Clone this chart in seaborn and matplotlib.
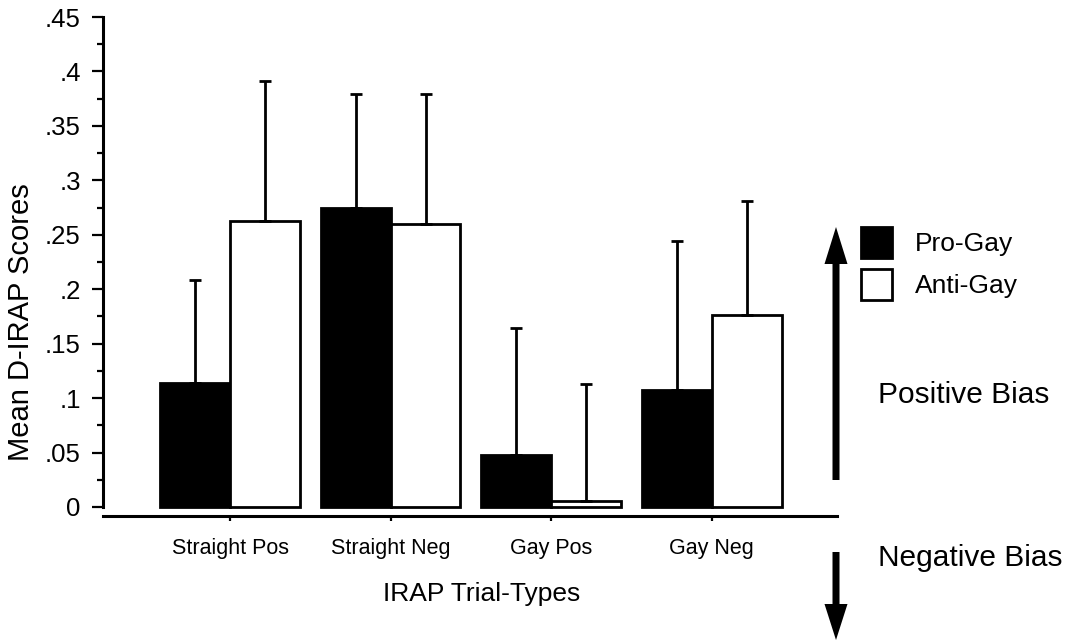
import numpy as np
import pandas as pd
import matplotlib
matplotlib.use("Agg")
import matplotlib.pyplot as plt
import seaborn as sns
from matplotlib.patches import Patch, FancyArrow
from matplotlib.transforms import IdentityTransform
from matplotlib.ticker import FixedLocator, MultipleLocator

# ---------------- data ----------------
categories = ["Straight Pos", "Straight Neg", "Gay Pos", "Gay Neg"]
groups = ["Pro-Gay", "Anti-Gay"]
pro_gay_means = [0.114, 0.275, 0.048, 0.107]
anti_gay_means = [0.263, 0.260, 0.0055, 0.176]
pro_gay_err = [0.0945, 0.104, 0.116, 0.137]
anti_gay_err = [0.128, 0.119, 0.1075, 0.105]
ytick_values = [0, 0.05, 0.1, 0.15, 0.2, 0.25, 0.3, 0.35, 0.4, 0.45]
ytick_labels = ["0", ".05", ".1", ".15", ".2", ".25", ".3", ".35", ".4", ".45"]

df = pd.DataFrame({
    "trial": categories * 2,
    "group": [groups[0]] * len(categories) + [groups[1]] * len(categories),
    "mean": pro_gay_means + anti_gay_means,
})

sns.set_style("ticks")
plt.rcParams["font.family"] = ["Liberation Sans", "DejaVu Sans"]
plt.rcParams["text.color"] = "black"
plt.rcParams["axes.labelcolor"] = "black"
plt.rcParams["xtick.color"] = "black"
plt.rcParams["ytick.color"] = "black"

W, H = 1077, 643
fig = plt.figure(figsize=(W / 100, H / 100), dpi=100)
ax = fig.add_axes([103 / W, (H - 516) / H, 734 / W, 499 / H])

sns.barplot(data=df, x="trial", y="mean", hue="group", order=categories,
            hue_order=groups, palette=["black", "white"], saturation=1,
            edgecolor="black", linewidth=2, width=0.87, errorbar=None,
            legend=False, ax=ax)

for cont, err in zip(ax.containers, [pro_gay_err, anti_gay_err]):
    xs = [b.get_x() + b.get_width() / 2 for b in cont]
    ys = [b.get_height() for b in cont]
    ax.errorbar(xs, ys, yerr=[np.zeros(len(err)), err], fmt="none",
                ecolor="black", elinewidth=2, capsize=4.5, capthick=2, zorder=3)

ax.set_xlim(-0.791, 3.78)
ax.set_ylim(-0.0083, 0.45)
ax.yaxis.set_major_locator(FixedLocator(ytick_values))
ax.set_yticklabels(ytick_labels)
ax.yaxis.set_minor_locator(MultipleLocator(0.025))

for s in ["top", "right"]:
    ax.spines[s].set_visible(False)
ax.spines["left"].set_bounds(0, 0.45)
ax.spines["left"].set_linewidth(2.2)
ax.spines["bottom"].set_linewidth(2.2)
ax.spines["left"].set_color("black")
ax.spines["bottom"].set_color("black")

ax.tick_params(axis="y", which="major", length=8, width=1.6, pad=8,
               labelsize=18.5, color="black", labelcolor="black")
ax.tick_params(axis="y", which="minor", length=4.3, width=1.6, color="black", left=True)
ax.tick_params(axis="x", which="major", length=3.6, width=1.6, pad=12.5,
               labelsize=15.5, color="black", labelcolor="black")

ax.set_xlabel("IRAP Trial-Types", fontsize=19, color="black")
ax.xaxis.set_label_coords(0.516, -0.133)
ax.set_ylabel("Mean D-IRAP Scores", fontsize=21, color="black")
ax.yaxis.set_label_coords(-0.093, 0.389)

handles = [Patch(facecolor="black", edgecolor="black", lw=2, label=groups[0]),
           Patch(facecolor="white", edgecolor="black", lw=2, label=groups[1])]
leg = ax.legend(handles=handles, loc="upper left", bbox_to_anchor=(861 / W, 416 / H),
                bbox_transform=fig.transFigure, frameon=False, borderpad=0,
                borderaxespad=0, fontsize=19, handlelength=1.17, handleheight=1.43,
                handletextpad=0.87, labelspacing=0.42)
for t in leg.get_texts():
    t.set_color("black")

# bias arrows and labels
fig.add_artist(FancyArrow(836, H - 480, 0, 253, width=7, head_width=23,
                          head_length=37, length_includes_head=True,
                          color="black", lw=0, transform=IdentityTransform()))
fig.add_artist(FancyArrow(836, H - 552, 0, -88, width=7, head_width=23,
                          head_length=36, length_includes_head=True,
                          color="black", lw=0, transform=IdentityTransform()))
fig.text(878 / W, 1 - 395 / H, "Positive Bias", ha="left", va="center", fontsize=21.5)
fig.text(878 / W, 1 - 558 / H, "Negative Bias", ha="left", va="center", fontsize=21.5)

fig.savefig("out.png", dpi=100)
